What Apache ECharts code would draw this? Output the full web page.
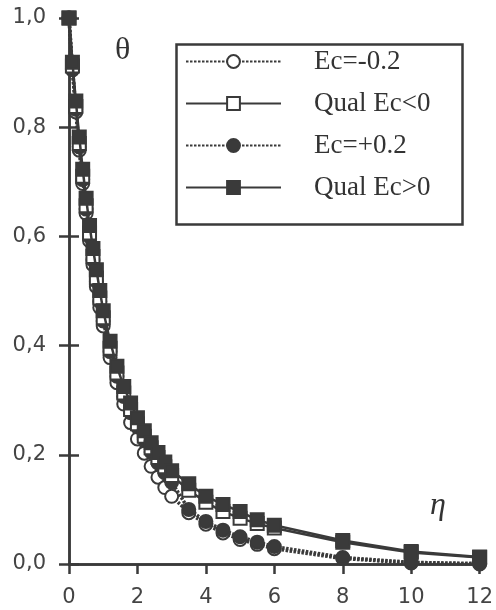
<!DOCTYPE html>
<html>
<head>
<meta charset="utf-8">
<script src="https://cdn.jsdelivr.net/npm/echarts@6/dist/echarts.min.js"></script>
<style>
  html, body { margin: 0; padding: 0; background: #fff; }
  #chart { width: 496px; height: 610px; }
</style>
</head>
<body>
<div id="chart"></div>
<script>
// eta positions of the computed points
const etas = [0, 0.1, 0.2, 0.3, 0.4, 0.5, 0.6, 0.7, 0.8, 0.9, 1.0,
  1.2, 1.4, 1.6, 1.8, 2.0, 2.2, 2.4, 2.6, 2.8, 3.0,
  3.5, 4, 4.5, 5, 5.5, 6, 8, 10, 12];

// theta values
const ecNeg = [1.0, 0.905, 0.828, 0.758, 0.697, 0.642, 0.592, 0.548, 0.508, 0.470, 0.436,
  0.378, 0.332, 0.293, 0.259, 0.229, 0.203, 0.179, 0.159, 0.140, 0.124,
  0.094, 0.073, 0.057, 0.045, 0.036, 0.028, 0.010, 0.002, 0.0];
const qualNeg = [1.0, 0.912, 0.838, 0.770, 0.710, 0.656, 0.606, 0.563, 0.524, 0.487, 0.451,
  0.395, 0.350, 0.313, 0.283, 0.257, 0.234, 0.213, 0.195, 0.178, 0.162,
  0.135, 0.113, 0.096, 0.084, 0.074, 0.066, 0.040, 0.021, 0.012];
const ecPos = [1.0, 0.908, 0.833, 0.764, 0.704, 0.650, 0.600, 0.557, 0.518, 0.481, 0.445,
  0.389, 0.344, 0.307, 0.277, 0.251, 0.228, 0.205, 0.185, 0.167, 0.150,
  0.100, 0.078, 0.062, 0.050, 0.040, 0.032, 0.012, 0.003, 0.001];
const qualPos = [1.0, 0.919, 0.848, 0.782, 0.723, 0.670, 0.620, 0.578, 0.539, 0.501, 0.464,
  0.408, 0.362, 0.325, 0.295, 0.268, 0.244, 0.222, 0.204, 0.187, 0.171,
  0.147, 0.124, 0.109, 0.096, 0.081, 0.071, 0.043, 0.023, 0.013];

const names = ['Ec=-0.2', 'Qual Ec<0', 'Ec=+0.2', 'Qual Ec>0'];

const ink = '#3a3a3a';
const pairs = (ys) => etas.map((x, i) => [x, ys[i]]);
const comma = (v) => v.toFixed(1).replace('.', ',');

function makeSeries(name, ys, symbol, filled, dotted, z) {
  return {
    name: name,
    type: 'line',
    data: pairs(ys),
    z: z,
    clip: false,
    symbol: symbol,
    symbolSize: 13,
    itemStyle: { color: filled ? ink : '#fff', borderColor: ink, borderWidth: 2 },
    lineStyle: { color: ink, width: dotted ? 3.5 : 2.5, type: dotted ? [2.5, 1.5] : 'solid' },
    emphasis: { disabled: true },
    animation: false
  };
}

const axisLine = { show: true, lineStyle: { color: ink, width: 2.5 } };
const labelFont = { fontFamily: 'DejaVu Sans', fontSize: 21, color: '#444' };

const chart = echarts.init(document.getElementById('chart'));
chart.setOption({
  backgroundColor: '#fff',
  animation: false,
  grid: { left: 69, right: 10, top: 18, bottom: 46 },
  xAxis: [
    {
      type: 'value', min: 0, max: 12, interval: 2, position: 'bottom',
      axisLine: axisLine,
      axisTick: { show: true, length: 10, lineStyle: { color: ink, width: 2.5 } },
      axisLabel: Object.assign({ margin: 23 }, labelFont),
      splitLine: { show: false }
    },
    {
      type: 'value', min: 0, max: 12, interval: 2, position: 'top',
      axisLine: axisLine, axisTick: { show: false }, axisLabel: { show: false },
      splitLine: { show: false }
    }
  ],
  yAxis: [
    {
      type: 'value', min: 0, max: 1, interval: 0.2, position: 'left',
      axisLine: axisLine,
      axisTick: { show: true, length: 10, lineStyle: { color: ink, width: 2.5 } },
      axisLabel: Object.assign({ margin: 23, formatter: comma }, labelFont),
      splitLine: { show: false }
    },
    {
      type: 'value', min: 0, max: 1, interval: 0.2, position: 'right',
      axisLine: axisLine,
      axisTick: { show: true, length: 10, lineStyle: { color: ink, width: 2.5 } },
      axisLabel: { show: false },
      splitLine: { show: false }
    }
  ],
  legend: {
    data: names,
    orient: 'vertical',
    left: 180,
    top: 43,
    itemWidth: 95,
    itemHeight: 16,
    itemGap: 15,
    selectedMode: false,
    textStyle: { fontFamily: 'Liberation Serif', fontSize: 27, lineHeight: 27, color: '#333', padding: [0, 0, 0, 28] }
  },
  graphic: [
    { type: 'rect', left: 174, top: 42, shape: { width: 286, height: 180 },
      style: { fill: 'none', stroke: ink, lineWidth: 2.5 } },
    { type: 'text', left: 115, top: 35,
      style: { text: 'θ', font: '32px "Liberation Serif"', fill: '#333' } },
    { type: 'text', left: 430, top: 490,
      style: { text: 'η', font: 'italic 32px "Liberation Serif"', fill: '#333' } }
  ],
  series: [
    makeSeries(names[0], ecNeg, 'circle', false, true, 2),
    makeSeries(names[1], qualNeg, 'rect', false, false, 4),
    makeSeries(names[2], ecPos, 'circle', true, true, 3),
    makeSeries(names[3], qualPos, 'rect', true, false, 5)
  ]
});
</script>
</body>
</html>
